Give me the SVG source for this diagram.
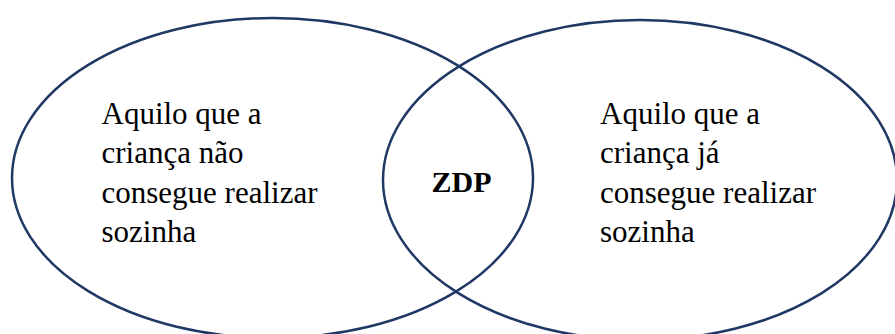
<svg xmlns="http://www.w3.org/2000/svg" width="895" height="334" viewBox="0 0 895 334">
<style>
.ell{fill:none;stroke:#1f3864;stroke-width:2.5}
.t{font-family:"Liberation Serif","Times New Roman",serif;font-size:31px;fill:#000}
.b{font-weight:bold;text-anchor:middle;font-size:30px}
</style>
<rect width="895" height="334" fill="#fff"/>
<g id="left">
<ellipse class="ell" cx="272.5" cy="178" rx="260.5" ry="160"/>
<text class="t" x="101.5"><tspan x="101.5" y="124">Aquilo que a</tspan><tspan x="101.5" y="163">criança não</tspan><tspan x="101.5" y="203">consegue realizar</tspan><tspan x="101.5" y="242">sozinha</tspan></text>
</g>
<g id="right">
<ellipse class="ell" cx="640" cy="180" rx="257" ry="160"/>
<text class="t" x="600"><tspan x="600" y="124">Aquilo que a</tspan><tspan x="600" y="163">criança já</tspan><tspan x="600" y="203">consegue realizar</tspan><tspan x="600" y="242">sozinha</tspan></text>
</g>
<g id="zdp">
<text class="t b" x="461.5" y="192">ZDP</text>
</g>
<g id="connectors"></g>
</svg>
